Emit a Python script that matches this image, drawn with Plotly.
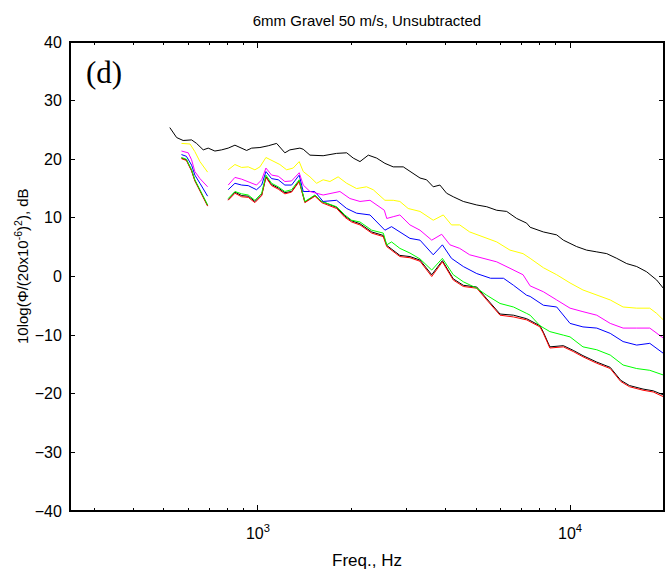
import plotly.graph_objects as go

# ---------------- data ----------------
black_top_f = [522, 549, 576, 613, 636, 668, 693, 728, 765, 803, 844, 887, 920, 955, 1015, 1079, 1148, 1220,
               1266, 1363, 1397, 1468, 1618, 1787, 1925, 2020, 2123, 2258, 2401, 2552, 2713, 2922, 3070, 3306,
               3470, 3645, 3829, 4023, 4226, 4550, 5025, 5409, 5822, 6267, 6746, 7262, 7450, 8012, 8213, 9063,
               9520, 10500, 11300, 12180, 13110, 14110, 15190, 16350, 17600, 18950, 19900]
black_top_db = [25.4, 23.7, 23.2, 23.3, 22.7, 21.6, 21.9, 21.4, 21.6, 21.9, 22.4, 21.9, 21.5, 21.9, 22.0, 22.3, 22.7, 21.1,
                21.6, 21.9, 21.7, 20.7, 20.6, 21.0, 21.1, 20.2, 19.6, 20.7, 20.2, 19.3, 18.7, 18.7, 17.9, 16.8,
                16.5, 15.3, 15.6, 14.2, 13.6, 12.8, 12.2, 11.9, 11.3, 11.1, 9.9, 9.1, 8.4, 7.9, 7.6, 7.1,
                6.2, 5.1, 4.5, 4.2, 3.9, 3.1, 2.2, 1.7, 0.8, -0.6, -2.0]

yellow_f = [569, 606, 628, 652, 690, None,
            803, 844, 887, 931, 978, 1015, 1061, 1120, 1176, 1236, 1297, 1356, 1397, 1468, 1542, 1618, 1701, 1807,
            1925, 2071, 2229, 2341, 2552, 2713, 2850, 3030, 3306, 3645, 3925, 4170, 4430, 4770, 5260, 5822, 6420,
            7070, 7450, 8213, 9063, 10000, 11000, 12180, 13450, 14790, 16350, 18010, 18950, 19900]
yellow_db = [22.7, 22.6, 21.3, 19.6, 17.8, None,
             18.2, 19.1, 18.6, 18.7, 18.2, 18.7, 20.3, 19.6, 19.1, 18.2, 18.5, 19.6, 17.9, 17.0, 15.9, 16.5, 16.2, 17.0,
             15.9, 15.0, 15.3, 14.8, 13.0, 13.0, 12.8, 11.6, 11.1, 9.6, 10.5, 8.8, 8.8, 7.6, 6.8, 5.9, 4.5,
             3.9, 3.1, 1.5, 0.3, -1.1, -2.3, -3.2, -4.0, -5.2, -5.4, -5.4, -6.3, -7.4]

magenta_f = [569, 598, 613, 628, 652, 690, None,
             803, 844, 887, 931, 990, 1028, 1061, 1106, 1162, 1220, 1282, 1356, 1397, 1468, 1618, 1831, 1971, 2123,
             2286, 2541, 2587, 2713, 2850, 3070, 3306, 3605, 3880, 4124, 4430, 4770, 5260, 5822, 6420, 7070, 7450,
             8012, 8213, 9063, 10000, 11000, 12180, 13450, 14790, 16350, 18010, 19900]
magenta_db = [21.4, 21.1, 19.9, 17.9, 16.7, 15.3, None,
              15.6, 16.9, 16.6, 16.2, 15.6, 16.5, 18.5, 17.3, 17.1, 16.2, 16.3, 17.7, 15.6, 14.5, 13.9, 14.5, 13.3, 12.8,
              13.0, 11.3, 9.9, 10.2, 10.5, 8.8, 7.9, 6.2, 7.2, 5.4, 4.8, 3.7, 3.1, 2.5, 1.4, 0.3, -1.6,
              -2.3, -2.6, -4.0, -5.4, -6.0, -6.6, -8.0, -8.8, -8.8, -8.8, -10.5]

blue_f = [569, 590, 613, 628, 652, 690, None,
          803, 844, 887, 931, 990, 1028, 1061, 1106, 1162, 1220, 1282, 1356, 1397, 1520, 1618, 1787, 1925, 2071,
          2286, 2552, 2680, 2850, 3070, 3306, 3645, 3900, 4170, 4550, 5025, 5565, 6120, 6590, 7262, 7450, 8012,
          8213, 9063, 10000, 11000, 12180, 13450, 14790, 16350, 18010, 19900]
blue_db = [20.8, 20.5, 19.0, 17.3, 15.9, 13.7, None,
           14.8, 15.9, 15.6, 15.5, 14.8, 15.6, 17.9, 16.7, 16.5, 15.6, 15.6, 17.3, 14.5, 14.5, 12.8, 13.0, 11.6, 10.8,
           10.5, 7.9, 8.5, 7.6, 6.5, 6.2, 3.7, 5.4, 3.1, 1.7, 0.5, -0.3, -0.3, -1.5, -3.2, -3.4, -4.6,
           -4.9, -5.2, -8.0, -8.6, -8.8, -9.7, -11.1, -11.7, -11.4, -13.1]

green_f = [569, 590, 613, 628, 652, 690, None,
           803, 844, 887, 931, 978, 1028, 1061, 1106, 1162, 1220, 1282, 1356, 1414, 1523, 1600, 1787, 1899, 1996,
           2123, 2316, 2522, 2587, 2680, 2850, 3070, 3306, 3605, 3900, 4226, 4550, 5025, 5409, 5966, 6590, 7262,
           7450, 8012, 8617, 9520, 10000, 11000, 12180, 13450, 14790, 16350, 18010, 19900]
green_db = [20.3, 20.0, 18.2, 16.5, 14.8, 12.2, None,
            13.3, 14.5, 14.1, 13.9, 13.0, 14.2, 17.3, 15.9, 15.3, 14.5, 14.8, 16.5, 12.8, 13.9, 12.8, 11.9, 10.5, 9.6,
            9.3, 7.9, 7.4, 5.4, 5.9, 4.8, 4.0, 3.0, 1.1, 3.1, 0.3, -0.9, -2.0, -3.2, -4.6, -5.2, -6.3,
            -6.6, -8.4, -9.4, -10.0, -10.3, -12.0, -12.5, -13.4, -15.1, -15.7, -16.0, -16.8]

red_f = [569, 590, 613, 628, 652, 690, None,
         803, 844, 887, 931, 978, 1028, 1061, 1106, 1162, 1220, 1282, 1356, 1414, 1523, 1600, 1787, 1899, 1996,
         2123, 2316, 2522, 2587, 2850, 3070, 3306, 3605, 3900, 4226, 4550, 5025, 5409, 5966, 6590, 7262, 8012,
         8213, 8617, 9520, 10240, 11000, 12180, 13450, 14530, 15500, 17130, 18470, 19900]
red_db = [20.1, 19.8, 18.0, 16.3, 14.6, 12.0, None,
          13.0, 14.2, 13.6, 13.5, 12.6, 13.8, 16.9, 15.5, 14.9, 14.1, 14.4, 16.2, 12.6, 13.7, 12.6, 11.6, 10.1, 9.3,
          8.8, 7.4, 6.8, 5.1, 3.4, 3.2, 2.6, 0.0, 2.5, -0.6, -1.7, -2.0, -4.0, -6.6, -6.9, -7.4, -8.6,
          -9.7, -12.2, -12.0, -12.8, -13.7, -14.8, -15.7, -17.9, -18.8, -19.4, -19.7, -20.5]

black_bot_f = [569, 590, 613, 628, 652, 690, None,
               803, 844, 887, 931, 978, 1028, 1061, 1106, 1162, 1220, 1282, 1356, 1414, 1523, 1600, 1787, 1899, 1996,
               2123, 2316, 2522, 2587, 2850, 3070, 3306, 3605, 3900, 4226, 4550, 5025, 5409, 5966, 6590, 7262, 8012,
               8213, 8617, 9520, 10240, 11000, 12180, 13450, 14530, 15500, 17130, 18470, 19900]
black_bot_db = [20.2, 19.9, 18.1, 16.4, 14.7, 12.1, None,
                13.1, 14.4, 13.8, 13.7, 12.8, 13.9, 17.0, 15.7, 15.1, 14.3, 14.5, 16.3, 12.7, 13.8, 12.8, 11.8, 10.3, 9.5,
                9.0, 7.6, 7.0, 5.3, 3.6, 3.4, 2.8, 0.3, 2.7, -0.4, -1.5, -1.8, -3.8, -6.4, -6.6, -7.2, -8.4,
                -9.5, -12.0, -11.8, -12.6, -13.5, -14.6, -15.5, -17.7, -18.6, -19.2, -19.5, -20.2]

x_minor_ticks = [300, 400, 500, 600, 700, 800, 900, 2000, 3000, 4000, 5000, 6000, 7000, 8000, 9000, 20000]
x_major_ticks = [1000, 10000]
x_major_text = ["10<sup>3</sup>", "10<sup>4</sup>"]
y_ticks = [-40, -30, -20, -10, 0, 10, 20, 30, 40]

# ---------------- figure ----------------
fig = go.Figure()
series = [
    (black_bot_f, black_bot_db, "#000000"),
    (red_f, red_db, "#ff0000"),
    (green_f, green_db, "#00ff00"),
    (blue_f, blue_db, "#0000ff"),
    (magenta_f, magenta_db, "#ff00ff"),
    (yellow_f, yellow_db, "#ffff00"),
    (black_top_f, black_top_db, "#000000"),
]
for fx, fy, col in series:
    fig.add_trace(go.Scatter(x=fx, y=fy, mode="lines", line=dict(color=col, width=1),
                             connectgaps=False, showlegend=False, hoverinfo="skip"))

font_family = "Arial, Liberation Sans, sans-serif"
fig.update_layout(
    width=670, height=571,
    margin=dict(l=70, r=6, t=42, b=60, autoexpand=False),
    paper_bgcolor="white", plot_bgcolor="white",
    font=dict(family=font_family, color="black", size=15),
    title=dict(text="6mm Gravel 50 m/s, Unsubtracted", x=0.5, xref="paper", xanchor="center",
               y=1 - 21 / 571, yanchor="middle", font=dict(size=15, family=font_family, color="black")),
    showlegend=False,
)
fig.update_xaxes(
    type="log", range=[2.39794, 4.30103], automargin=False,
    tickmode="array", tickvals=x_major_ticks, ticktext=x_major_text,
    ticks="inside", ticklen=6, tickwidth=1, tickcolor="black",
    minor=dict(tickmode="array", tickvals=x_minor_ticks, ticks="inside", ticklen=3, tickcolor="black", showgrid=False),
    showline=True, linecolor="black", linewidth=1, mirror="allticks",
    showgrid=False, zeroline=False,
    tickfont=dict(size=16, family=font_family), ticklabelstandoff=8,
    title=dict(text="Freq., Hz", font=dict(size=17, family=font_family), standoff=12),
)
fig.update_yaxes(
    range=[-40, 40], tickmode="array", tickvals=y_ticks, automargin=False,
    ticks="inside", ticklen=5, tickwidth=1, tickcolor="black",
    showline=True, linecolor="black", linewidth=1, mirror="allticks",
    showgrid=False, zeroline=False,
    tickfont=dict(size=16, family=font_family), ticklabelstandoff=4,
)
fig.add_shape(type="rect", xref="paper", yref="paper", x0=0, x1=1, y0=0, y1=1,
              line=dict(color="black", width=2), fillcolor="rgba(0,0,0,0)", layer="above")
fig.add_shape(type="line", xref="paper", yref="paper", x0=0, x1=1, y0=1, y1=1,
              line=dict(color="black", width=2), layer="above")
fig.add_annotation(text="10log(\u03a6/(20x10<sup>-6</sup>)<sup>2</sup>), dB", xref="paper", yref="paper",
                   x=(21 - 70) / 594, y=(511 - 266) / 469, xanchor="center", yanchor="middle", textangle=-90,
                   showarrow=False, font=dict(size=15, family=font_family, color="black"))
fig.add_annotation(text="(d)", xref="paper", yref="paper", x=0.024, y=0.935, xanchor="left", yanchor="middle",
                   showarrow=False, font=dict(family="Times New Roman, Liberation Serif, serif", size=31, color="black"))

fig.write_html("out.html", config={"displayModeBar": False},
               post_script="document.body.style.margin='0';document.body.style.overflow='hidden';")
